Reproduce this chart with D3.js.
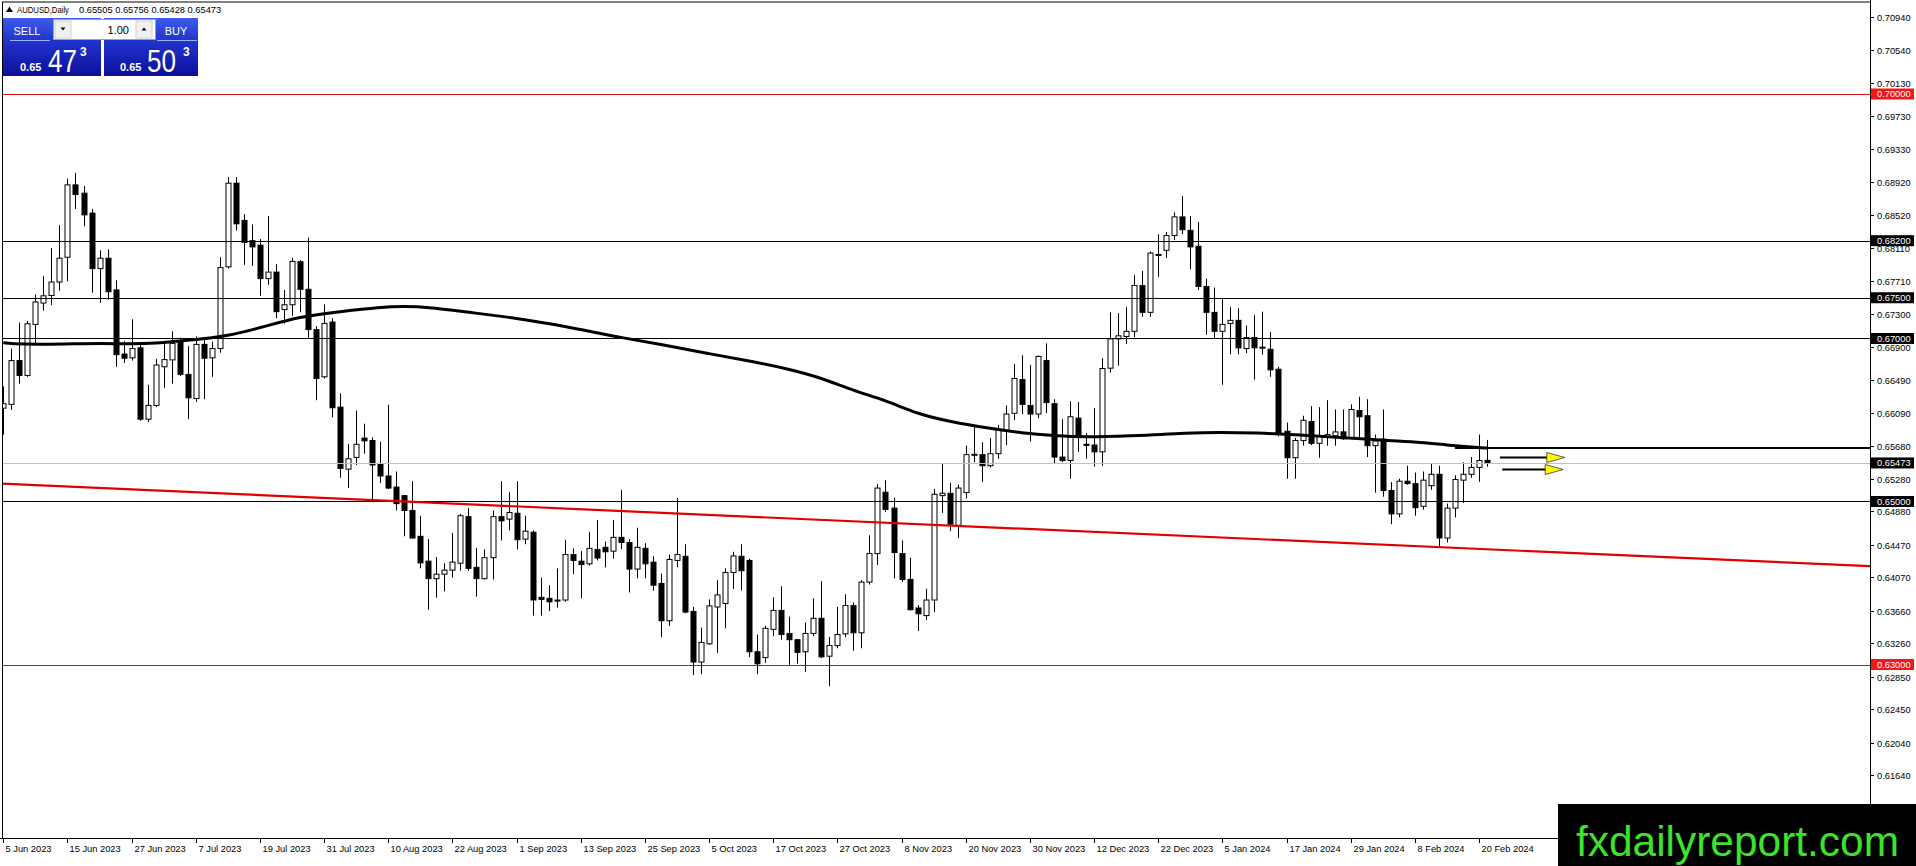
<!DOCTYPE html>
<html><head><meta charset="utf-8">
<script src="https://cdn.jsdelivr.net/npm/d3@7/dist/d3.min.js"></script>
<style>
html,body{margin:0;padding:0;background:#fff;overflow:hidden;}
svg{display:block;font-family:"Liberation Sans",Arial,sans-serif;}
</style></head><body>
<svg id="chart" width="1916" height="866"></svg>
<script>
// ---------------- DATA ----------------
const symbolName = "AUDUSD,Daily";
const headerOHLC = "0.65505 0.65756 0.65428 0.65473";
const opens = [.66145,.66192,.66729,.66547,.67173,.67435,.67528,.67693,.67997,.68885,
.68783,.68538,.67858,.67985,.67596,.66809,.66763,.66885,.66010,.66179,
.66653,.66737,.66961,.66560,.66264,.66928,.66763,.66877,.67879,.68906,
.68449,.68200,.68145,.67735,.67815,.67355,.67414,.67942,.67604,.67109,
.66530,.67202,.66158,.65397,.65541,.65778,.65748,.65460,.65313,.65177,
.65072,.64890,.64573,.64268,.64053,.64108,.64158,.64243,.64814,.64192,
.64053,.64311,.64814,.64784,.64856,.64539,.64623,.63824,.63812,.63778,
.63791,.64349,.64268,.64235,.64412,.64438,.64391,.64560,.64497,.64171,
.64425,.64256,.63994,.63537,.64277,.64328,.63651,.63030,.63254,.63706,
.63748,.64129,.64328,.64277,.63156,.63085,.63431,.63664,.63381,.63304,
.63156,.63381,.63567,.63102,.63233,.63376,.63723,.63389,.64011,.64361,
.65114,.64919,.64361,.64044,.63693,.63600,.63791,.65072,.65101,.64708,
.65110,.65570,.65575,.65439,.65587,.65871,.66082,.66496,.66179,.66073,
.66729,.66200,.65545,.65503,.66023,.65702,.65693,.65609,.66636,.66995,
.67025,.67088,.67650,.67321,.68031,.68082,.68263,.68492,.68327,.68132,
.67638,.67321,.67088,.67185,.67223,.66877,.67012,.66894,.66868,.66623,
.65862,.65537,.65748,.65981,.65714,.65786,.65807,.65854,.65786,.66116,
.66052,.65685,.65765,.65135,.64848,.65249,.65220,.64941,.65194,.65334,
.64552,.64919,.65262,.65334,.65418,.65505];
const highs = [.66412,.66877,.67194,.67215,.67541,.67765,.68111,.68390,.68961,.69033,
.68872,.68589,.68082,.68094,.67714,.66970,.67236,.66919,.66433,.66750,
.66940,.67088,.67012,.66906,.67025,.66982,.66961,.67997,.68982,.68982,
.68526,.68399,.68221,.68504,.67913,.67596,.67989,.67963,.68238,.67152,
.67418,.67249,.66327,.65706,.66116,.65955,.65786,.65735,.66188,.65368,
.65080,.65249,.64826,.64539,.64319,.64243,.64615,.64848,.64919,.64433,
.64412,.64890,.65249,.65114,.65249,.64826,.64645,.64066,.63973,.64180,
.64531,.64425,.64391,.64628,.64772,.64509,.64772,.65143,.64539,.64678,
.64488,.64328,.64116,.64349,.65046,.64476,.63706,.63452,.63799,.64036,
.64180,.64383,.64476,.64298,.63368,.63474,.63824,.63960,.63588,.63313,
.63516,.63812,.64023,.63338,.63706,.63863,.63761,.64036,.64585,.65215,
.65262,.65046,.64522,.64311,.63727,.63930,.65152,.65461,.65228,.65207,
.65685,.65913,.65727,.65778,.65938,.66179,.66687,.66792,.66678,.66792,
.66940,.66255,.66010,.66230,.66221,.65841,.66145,.66758,.67321,.67312,
.67384,.67777,.67828,.68069,.68280,.68306,.68547,.68750,.68504,.68428,
.67735,.67625,.67498,.67384,.67371,.67160,.67287,.67329,.67080,.66653,
.65968,.65778,.66052,.66171,.66158,.66243,.66129,.66129,.66192,.66285,
.66255,.65820,.66129,.65237,.65279,.65439,.65355,.65368,.65461,.65439,
.64974,.65321,.65482,.65545,.65820,.65756];
const lows = [.65820,.66124,.66446,.66530,.66940,.67342,.67410,.67587,.67701,.68589,
.68378,.67562,.67439,.67477,.66653,.66699,.66729,.65989,.65976,.66158,
.66391,.66446,.66539,.66010,.66221,.66255,.66530,.66826,.67858,.68323,
.67904,.67891,.67524,.67659,.67249,.67181,.67278,.67321,.67004,.66243,
.66509,.66031,.65291,.65165,.65448,.65587,.65025,.65228,.65152,.64890,
.64573,.64543,.64180,.63672,.63820,.63896,.64066,.64150,.64150,.63833,
.64044,.64044,.64522,.64645,.64412,.64476,.63600,.63600,.63655,.63698,
.63769,.64108,.63812,.64213,.64277,.64192,.64298,.64416,.63884,.64057,
.64057,.63905,.63334,.63474,.64192,.63630,.62869,.62882,.63241,.63144,
.63444,.63926,.63909,.63093,.62882,.63021,.63347,.63304,.62996,.63009,
.62911,.63347,.63080,.62734,.63199,.63334,.63169,.63199,.63981,.64222,
.64869,.64057,.64011,.63664,.63410,.63545,.63643,.64860,.64636,.64552,
.65038,.65482,.65241,.65418,.65524,.65693,.65997,.66073,.65735,.66023,
.66086,.65460,.65482,.65279,.65609,.65524,.65427,.65439,.66581,.66665,
.66932,.67016,.67266,.67266,.67756,.67989,.68209,.68280,.67849,.67596,
.67046,.67004,.66433,.66805,.66805,.66822,.66496,.66801,.66530,.65799,
.65279,.65279,.65685,.65693,.65537,.65685,.65685,.65756,.65769,.65786,
.65545,.65110,.65059,.64721,.64805,.65207,.64826,.64898,.65143,.64446,
.64497,.64805,.64983,.65291,.65241,.65428];
const closes = [.66200,.66729,.66547,.67181,.67448,.67524,.67693,.67985,.68885,.68767,
.68517,.67858,.67985,.67574,.66801,.66758,.66877,.66010,.66179,.66674,
.66741,.66940,.66560,.66272,.66928,.66758,.66877,.67870,.68906,.68407,
.68179,.68124,.67735,.67815,.67329,.67414,.67946,.67604,.67109,.66509,
.67185,.66150,.65406,.65524,.65702,.65744,.65448,.65313,.65165,.64974,
.64890,.64552,.64247,.64053,.64108,.64158,.64256,.64826,.64180,.64053,
.64311,.64814,.64763,.64865,.64531,.64636,.63791,.63799,.63769,.63791,
.64349,.64277,.64226,.64425,.64306,.64383,.64560,.64497,.64171,.64438,
.64235,.63973,.63537,.64289,.64349,.63643,.63030,.63271,.63719,.63854,
.64129,.64332,.64150,.63156,.63009,.63444,.63664,.63368,.63304,.63148,
.63381,.63567,.63093,.63233,.63368,.63723,.63389,.64011,.64361,.65165,
.64903,.64374,.64044,.63672,.63622,.63791,.65089,.65101,.64721,.65165,
.65575,.65579,.65439,.65587,.65883,.66073,.66509,.66192,.66073,.66780,
.66213,.65545,.65503,.66040,.65786,.65689,.65609,.66632,.66995,.67033,
.67088,.67650,.67321,.68048,.68018,.68263,.68492,.68335,.68124,.67638,
.67321,.67088,.67173,.67223,.66885,.67012,.66885,.66885,.66615,.65833,
.65537,.65748,.65997,.65714,.65799,.65820,.65854,.65769,.66129,.66040,
.65685,.65744,.65135,.64848,.65249,.65220,.64924,.65262,.65334,.64552,
.64919,.65270,.65334,.65418,.65503,.65473];

// moving average: bar index -> value
const maBars   = [0,2,8,12,18,21,25,28,32,37,42,47,50,53,59,63,66,70,74,77,82,88,94,98,102,106,110,114,118,123,127,131,135,141,144,149,157,161,169,176,180,184,185];
const maValues = [.66949,.66927,.66932,.66940,.66932,.66961,.66995,.67033,.67130,.67270,.67329,.67384,.67395,.67384,.67310,.67262,.67215,.67150,.67070,.67012,.66928,.66813,.66708,.66623,.66517,.66361,.66243,.66073,.65981,.65896,.65841,.65807,.65786,.65807,.65820,.65850,.65841,.65820,.65769,.65735,.65693,.65660,.65656];

const dateLabels = ["5 Jun 2023","15 Jun 2023","27 Jun 2023","7 Jul 2023","19 Jul 2023","31 Jul 2023","10 Aug 2023","22 Aug 2023","1 Sep 2023","13 Sep 2023","25 Sep 2023","5 Oct 2023","17 Oct 2023","27 Oct 2023","8 Nov 2023","20 Nov 2023","30 Nov 2023","12 Dec 2023","22 Dec 2023","5 Jan 2024","17 Jan 2024","29 Jan 2024","8 Feb 2024","20 Feb 2024"];
const dateLabelBars = [0,8,16,24,32,40,48,56,64,72,80,88,96,104,112,120,128,136,144,152,160,168,176,184];

const priceTicks = [0.70940,0.70540,0.70130,0.69730,0.69330,0.68920,0.68520,0.68110,0.67710,0.67300,0.66900,0.66490,0.66090,0.65680,0.65280,0.64880,0.64470,0.64070,0.63660,0.63260,0.62850,0.62450,0.62040,0.61640];

const levelPrices = [0.70000,0.68200,0.67500,0.67000,0.65000,0.63000];
const levelKinds  = ["red","black","black","black","black","red"];
const bidPrice = 0.65473;
const resistPrice = 0.65656, resistStartBar = 181;
const trendBars = [0,185], trendPrices = [0.65218,0.64414];
const arrowPrices = [0.65546,0.65399];
const arrowBars = [[186.6,194.7],[186.9,194.5]];
const sellPrice = ["0.65","47","3"], buyPrice = ["0.65","50","3"], lotSize = "1.00";
const watermark = "fxdailyreport.com";

// ---------------- DRAW ----------------
const W = 1916, H = 866, plotR = 1870, plotB = 838, plotL = 2, plotT = 2;
const svg = d3.select("#chart");
const x = d3.scaleLinear().domain([0,185]).range([3.3, 3.3 + 8.02*185]);
const y = d3.scaleLinear().domain([0.63,0.70]).range([664.5,94]);

svg.append("rect").attr("width",W).attr("height",H).attr("fill","#fff");
const defs = svg.append("defs");
defs.append("clipPath").attr("id","clip")
  .append("rect").attr("x",plotL).attr("y",plotT).attr("width",plotR-plotL).attr("height",plotB-plotT);
const g1 = defs.append("linearGradient").attr("id","blueTop").attr("x1",0).attr("y1",0).attr("x2",0).attr("y2",1);
g1.append("stop").attr("offset","0%").attr("stop-color","#3f5cf0");
g1.append("stop").attr("offset","100%").attr("stop-color","#1f33c8");
const g2 = defs.append("linearGradient").attr("id","blueBot").attr("x1",0).attr("y1",0).attr("x2",0).attr("y2",1);
g2.append("stop").attr("offset","0%").attr("stop-color","#2233cf");
g2.append("stop").attr("offset","100%").attr("stop-color","#0d0f9a");

const plot = svg.append("g").attr("clip-path","url(#clip)");

// candles
const idx = d3.range(opens.length);
const cg = plot.append("g");
cg.selectAll("line.wick").data(idx).join("line").attr("class","wick")
  .attr("x1",i=>Math.round(x(i))+0.5).attr("x2",i=>Math.round(x(i))+0.5)
  .attr("y1",i=>y(highs[i])).attr("y2",i=>y(lows[i]))
  .attr("stroke","#000").attr("stroke-width",1);
cg.selectAll("rect.body").data(idx).join("rect").attr("class","body")
  .attr("x",i=>Math.round(x(i))-2)
  .attr("y",i=>y(Math.max(opens[i],closes[i])))
  .attr("width",5)
  .attr("height",i=>Math.max(1,Math.abs(y(opens[i])-y(closes[i]))))
  .attr("fill",i=>closes[i]>=opens[i]?"#fff":"#000")
  .attr("stroke","#000").attr("stroke-width",1);

// horizontal levels
plot.selectAll("line.level").data(levelPrices).join("line").attr("class","level")
  .attr("x1",plotL).attr("x2",plotR)
  .attr("y1",d=>Math.round(y(d))+0.5).attr("y2",d=>Math.round(y(d))+0.5)
  .attr("stroke",(d,i)=>levelKinds[i]==="red"?"#d01010":"#000").attr("stroke-width",1.2);
// bid line
plot.append("line").attr("x1",plotL).attr("x2",plotR)
  .attr("y1",Math.round(y(bidPrice))+0.5).attr("y2",Math.round(y(bidPrice))+0.5)
  .attr("stroke","#c0c0c0").attr("stroke-width",1);
// trend line (extended)
const slope = (trendPrices[1]-trendPrices[0])/(trendBars[1]-trendBars[0]);
const xb = d3.scaleLinear().domain(x.range()).range(x.domain());
const bL = xb(plotL), bR = xb(plotR);
plot.append("line")
  .attr("x1",plotL).attr("y1",y(trendPrices[0]+slope*(bL-trendBars[0])))
  .attr("x2",plotR).attr("y2",y(trendPrices[0]+slope*(bR-trendBars[0])))
  .attr("stroke","#e00000").attr("stroke-width",2.2);
// moving average
plot.append("path").datum(maBars.map((b,i)=>[b,maValues[i]]))
  .attr("d",d3.line().x(d=>x(d[0])).y(d=>y(d[1])).curve(d3.curveBasis))
  .attr("fill","none").attr("stroke","#000").attr("stroke-width",3);
// resistance segment
plot.append("line").attr("x1",x(resistStartBar)).attr("x2",plotR)
  .attr("y1",y(resistPrice)).attr("y2",y(resistPrice))
  .attr("stroke","#000").attr("stroke-width",2);
// arrows
arrowPrices.forEach((p,i)=>{
  const yy = Math.round(y(p))+0.5, xs = x(arrowBars[i][0]), xe = x(arrowBars[i][1]);
  plot.append("line").attr("x1",xs).attr("x2",xe-14).attr("y1",yy).attr("y2",yy)
    .attr("stroke","#000").attr("stroke-width",2);
  plot.append("path").attr("d",`M${xe-18},${yy-5} L${xe},${yy} L${xe-18},${yy+5} Z`)
    .attr("fill","#ffff00").attr("stroke","#333").attr("stroke-width",0.8);
});

// frame
svg.append("line").attr("x1",plotL).attr("x2",plotR).attr("y1",plotT).attr("y2",plotT).attr("stroke","#000");
svg.append("line").attr("x1",plotL+0.5).attr("x2",plotL+0.5).attr("y1",plotT).attr("y2",plotB).attr("stroke","#000");
svg.append("line").attr("x1",plotR+0.5).attr("x2",plotR+0.5).attr("y1",0).attr("y2",plotB).attr("stroke","#000");
svg.append("line").attr("x1",0).attr("x2",plotR).attr("y1",plotB+0.5).attr("y2",plotB+0.5).attr("stroke","#000");

// price axis
const ax = svg.append("g").attr("font-size","9.3px").attr("fill","#000");
priceTicks.forEach(p=>{
  const yy = Math.round(y(p))+0.5;
  ax.append("line").attr("x1",plotR).attr("x2",plotR+4).attr("y1",yy).attr("y2",yy).attr("stroke","#000");
  ax.append("text").attr("x",1877).attr("y",yy).attr("dy","0.35em").text(p.toFixed(5));
});
const boxes = levelPrices.map((p,i)=>({p, c: levelKinds[i]==="red"?"#f01818":"#000"})).concat([{p:bidPrice,c:"#000"}]);
boxes.forEach(b=>{
  const yy = y(b.p);
  ax.append("rect").attr("x",1871).attr("y",yy-5.5).attr("width",43).attr("height",11).attr("fill",b.c);
  ax.append("text").attr("x",1877).attr("y",yy).attr("dy","0.35em").attr("fill","#fff").text(b.p.toFixed(5));
});

// date axis
const dx = svg.append("g").attr("font-size","9.3px");
dateLabels.forEach((t,i)=>{
  const xx = Math.round(x(dateLabelBars[i]))+0.5;
  dx.append("line").attr("x1",xx).attr("x2",xx).attr("y1",plotB).attr("y2",plotB+5).attr("stroke","#000");
  dx.append("text").attr("x",xx+2).attr("y",852).text(t);
});

// header
svg.append("path").attr("d","M6,12 L9.5,6.5 L13,12 Z").attr("fill","#000");
const hdr = svg.append("text").attr("x",17).attr("y",12.5).attr("font-size","9.3px");
hdr.append("tspan").attr("textLength",52).attr("lengthAdjust","spacingAndGlyphs").text(symbolName);
hdr.append("tspan").attr("x",79).text(headerOHLC);

// one-click panel
const pn = svg.append("g");
pn.append("rect").attr("x",3).attr("y",18).attr("width",98).attr("height",23).attr("fill","url(#blueTop)");
pn.append("rect").attr("x",104).attr("y",18).attr("width",94).attr("height",23).attr("fill","url(#blueTop)");
pn.append("rect").attr("x",3).attr("y",41).attr("width",98).attr("height",35).attr("fill","url(#blueBot)");
pn.append("rect").attr("x",104).attr("y",41).attr("width",94).attr("height",35).attr("fill","url(#blueBot)");
pn.append("line").attr("x1",10).attr("x2",50).attr("y1",40.5).attr("y2",40.5).attr("stroke","#9fb0ff").attr("stroke-width",1);
pn.append("line").attr("x1",157).attr("x2",197).attr("y1",40.5).attr("y2",40.5).attr("stroke","#9fb0ff").attr("stroke-width",1);
pn.append("text").attr("x",27).attr("y",35).attr("text-anchor","middle").attr("fill","#fff").attr("font-size","11px").text("SELL");
pn.append("text").attr("x",176).attr("y",35).attr("text-anchor","middle").attr("fill","#fff").attr("font-size","11px").text("BUY");
pn.append("rect").attr("x",53.5).attr("y",19.5).attr("width",102).attr("height",20).attr("fill","#fff").attr("stroke","#a0a0a0");
pn.append("rect").attr("x",55).attr("y",21).attr("width",16).attr("height",17).attr("fill","#f0f0f0").attr("stroke","#d0d0d0");
pn.append("rect").attr("x",136).attr("y",21).attr("width",16).attr("height",17).attr("fill","#f0f0f0").attr("stroke","#d0d0d0");
pn.append("path").attr("d","M60.5,27.5 L65.5,27.5 L63,30.5 Z").attr("fill","#000");
pn.append("path").attr("d","M141.5,30.5 L146.5,30.5 L144,27.5 Z").attr("fill","#000");
pn.append("text").attr("x",129).attr("y",33.5).attr("text-anchor","end").attr("font-size","11px").text(lotSize);
[[sellPrice,20,48,80],[buyPrice,120,147,183]].forEach(([pr,x0,x1,x2])=>{
  pn.append("text").attr("x",x0).attr("y",71).attr("fill","#fff").attr("font-size","11px").attr("font-weight","bold").text(pr[0]);
  pn.append("text").attr("x",x1).attr("y",72).attr("fill","#fff").attr("font-size","31px")
    .attr("textLength",29).attr("lengthAdjust","spacingAndGlyphs").text(pr[1]);
  pn.append("text").attr("x",x2).attr("y",56).attr("fill","#fff").attr("font-size","12px").attr("font-weight","bold").text(pr[2]);
});

// watermark
svg.append("rect").attr("x",1558).attr("y",804).attr("width",W-1558).attr("height",H-804).attr("fill","#000");
svg.append("text").attr("x",1576).attr("y",856).attr("font-size","42px").attr("fill","#3be32a")
  .attr("textLength",323).attr("lengthAdjust","spacingAndGlyphs").text(watermark);
</script>
</body></html>
